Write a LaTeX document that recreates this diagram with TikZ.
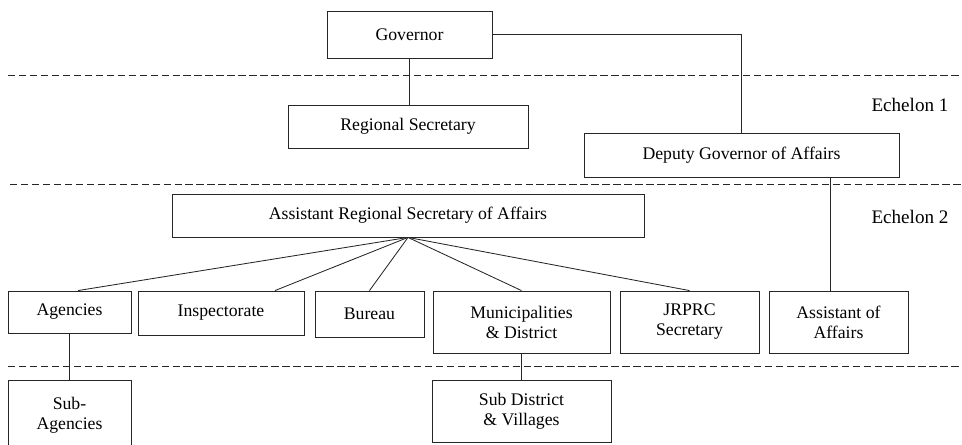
\documentclass[tikz,border=0pt]{standalone}
\usepackage{fontspec}
\setmainfont{Liberation Serif}
\usepackage{tikz}
\usetikzlibrary{calc}

\begin{document}
\begin{tikzpicture}[
  x=0.025cm, y=-0.025cm,
  font=\fontsize{12.6}{14.2}\selectfont,
  ln/.style={draw=black!85, line width=0.6pt},
  bx/.style={ln, rectangle, align=center, inner sep=0pt},
  sep/.style={ln, dash pattern=on 5.3pt off 2.5pt},
  ech/.style={font=\fontsize{13.6}{15}\selectfont},
]
\useasboundingbox (0,0) rectangle (962,445);
% echelon separators
\draw[sep] (8,75) -- (962,75);
\draw[sep] (10,184) -- (962,184);
\draw[sep] (8,366) -- (962,366);
\node[ech] (e1) at (910,105) {Echelon 1};
\node[ech] (e2) at (910,217) {Echelon 2};
% boxes
\node[bx, minimum width=165*0.025cm, minimum height=47*0.025cm] (gov) at (409.5,34.5) {Governor};
\node[bx, minimum width=240*0.025cm, minimum height=43*0.025cm] (rsec) at (408,126.5) {Regional Secretary};
\node[bx, minimum width=315*0.025cm, minimum height=44*0.025cm] (dgov) at (741.5,155) {Deputy Governor of Affairs};
\node[bx, minimum width=472*0.025cm, minimum height=43*0.025cm] (arsec) at (408,215.5) {Assistant Regional Secretary of Affairs};
\node[bx, minimum width=123*0.025cm, minimum height=42*0.025cm] (agn) at (69.5,312) {Agencies};
\node[bx, minimum width=166*0.025cm, minimum height=44*0.025cm] (insp) at (221,313) {Inspectorate};
\node[bx, minimum width=109*0.025cm, minimum height=46*0.025cm] (bur) at (369.5,314) {Bureau};
\node[bx, minimum width=177*0.025cm, minimum height=62*0.025cm] (mun) at (521.5,322) {Municipalities\\ \& District};
\node[bx, minimum width=139*0.025cm, minimum height=62*0.025cm] (jrprc) at (689.5,322) {JRPRC\\Secretary};
\node[bx, minimum width=139*0.025cm, minimum height=62*0.025cm] (asaff) at (838.5,322) {Assistant of\\Affairs};
\node[bx, minimum width=123*0.025cm, minimum height=70*0.025cm] (subag) at (69.5,415) {Sub-\\Agencies};
\node[bx, minimum width=179*0.025cm, minimum height=62*0.025cm] (subdis) at (521.5,411) {Sub District\\ \& Villages};
% links
\draw[ln] (gov.south) -- (gov.south |- rsec.north);
\draw[ln] (gov.east) -- (dgov.north |- gov.east) -- (dgov.north);
\coordinate (aa) at ($(asaff.north)+(-8.5,0)$);
\draw[ln] (aa |- dgov.south) -- (aa);
\draw[ln] (arsec.south) -- ($(agn.north)+(8.5,0)$);
\draw[ln] (arsec.south) -- ($(insp.north)+(54,0)$);
\draw[ln] (arsec.south) -- (bur.north);
\draw[ln] (arsec.south) -- (mun.north);
\draw[ln] (arsec.south) -- (jrprc.north);
\draw[ln] (agn.south) -- (subag.north);
\draw[ln] (mun.south) -- (subdis.north);
\end{tikzpicture}
\end{document}
